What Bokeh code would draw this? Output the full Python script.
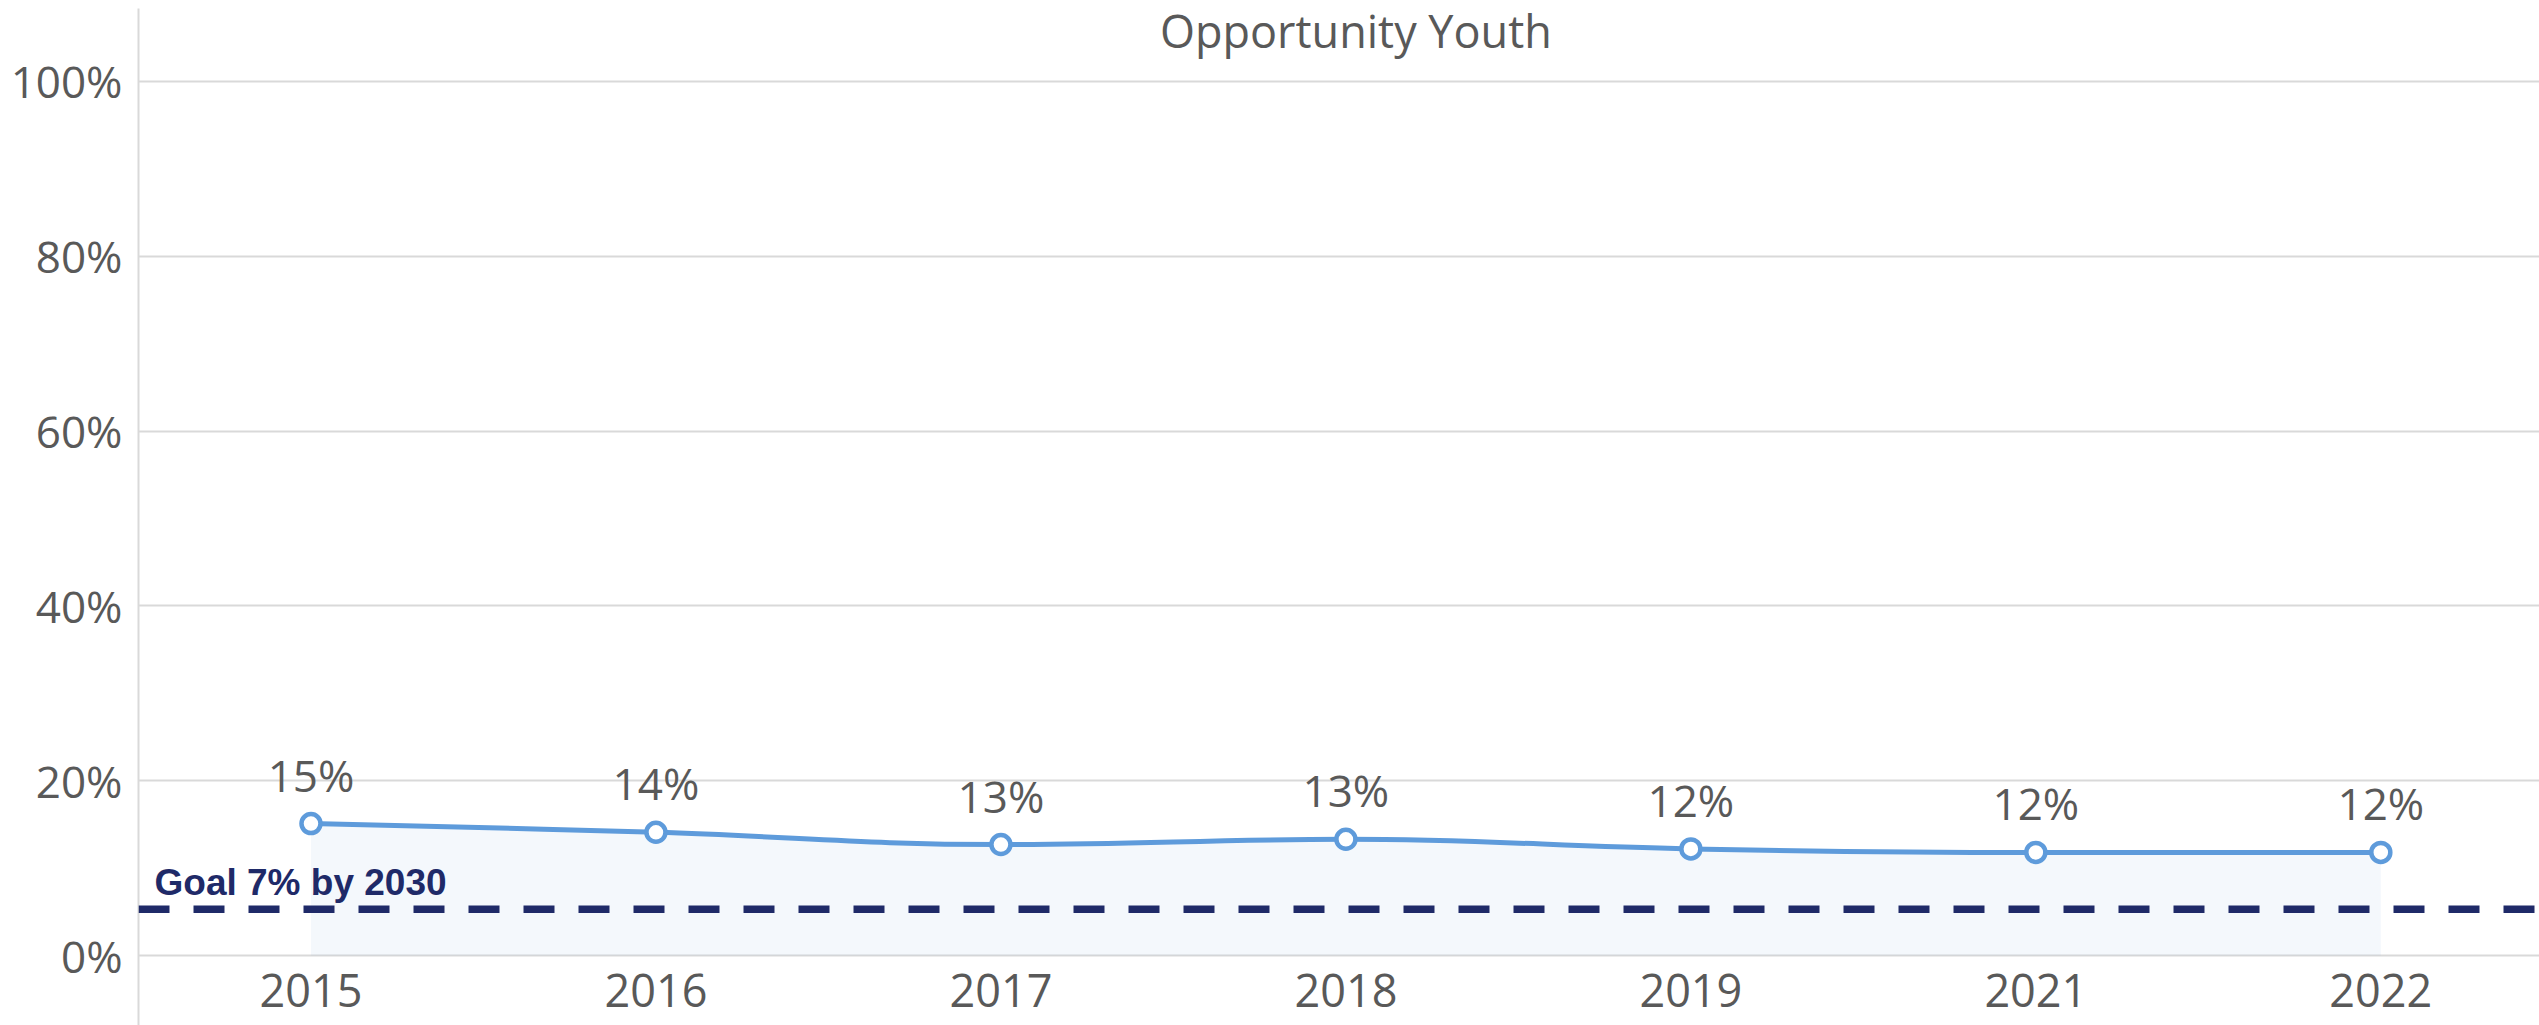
import numpy as np
from bokeh.plotting import figure
from bokeh.models import Range1d, FixedTicker, PrintfTickFormatter, Span, Label, ColumnDataSource
from bokeh.core.properties import value
from bokeh.embed import file_html
from bokeh.resources import INLINE

# ---- data ----
years = ["2015", "2016", "2017", "2018", "2019", "2021", "2022"]
rates = [15.1, 14.1, 12.7, 13.3, 12.2, 11.8, 11.8]
rate_labels = ["15%", "14%", "13%", "13%", "12%", "12%", "12%"]
y_ticks = [0, 20, 40, 60, 80, 100]
goal_level = 5.3
goal_text = "Goal 7% by 2030"
title_text = "Opportunity Youth"

# ---- styles ----
BLUE = "#5e9bdb"
NAVY = "#1f2a68"
GRID = "#d9d9d9"
TEXT = "#595959"
FONT = "Open Sans"

xs = list(range(len(years)))

# Highcharts-like spline control points (smoothing 1.5)
def spline_segments(px, py, smoothing=1.5):
    denom = smoothing + 1.0
    n = len(px)
    rc = [None] * n
    lc = [None] * n
    for i in range(1, n - 1):
        lx, ly = px[i - 1], py[i - 1]
        nx, ny = px[i + 1], py[i + 1]
        x, y = px[i], py[i]
        lcx = (smoothing * x + lx) / denom
        lcy = (smoothing * y + ly) / denom
        rcx = (smoothing * x + nx) / denom
        rcy = (smoothing * y + ny) / denom
        corr = 0.0
        if rcx != lcx:
            corr = ((rcy - lcy) * (rcx - x)) / (rcx - lcx) + y - rcy
        lcy += corr
        rcy += corr
        if lcy > ly and lcy > y:
            lcy = max(ly, y); rcy = 2 * y - lcy
        elif lcy < ly and lcy < y:
            lcy = min(ly, y); rcy = 2 * y - lcy
        if rcy > ny and rcy > y:
            rcy = max(ny, y); lcy = 2 * y - rcy
        elif rcy < ny and rcy < y:
            rcy = min(ny, y); lcy = 2 * y - rcy
        lc[i] = (lcx, lcy)
        rc[i] = (rcx, rcy)
    seg = dict(x0=[], y0=[], x1=[], y1=[], cx0=[], cy0=[], cx1=[], cy1=[])
    for i in range(1, n):
        c0 = rc[i - 1] if rc[i - 1] is not None else (px[i - 1], py[i - 1])
        c1 = lc[i] if lc[i] is not None else (px[i], py[i])
        seg["x0"].append(px[i - 1]); seg["y0"].append(py[i - 1])
        seg["x1"].append(px[i]); seg["y1"].append(py[i])
        seg["cx0"].append(c0[0]); seg["cy0"].append(c0[1])
        seg["cx1"].append(c1[0]); seg["cy1"].append(c1[1])
    return seg

W, H = 2539, 1025
p = figure(width=W, height=H, output_backend="svg", toolbar_location=None,
           x_range=Range1d(-0.5, 6.46), y_range=Range1d(-8.0, 108.34),
           min_border_left=138, min_border_right=0, min_border_top=8, min_border_bottom=0,
           background_fill_color="white", border_fill_color="white")
p.outline_line_color = None

src = ColumnDataSource(dict(x=xs, y=rates, lab=rate_labels, zero=[0] * len(xs)))

# area under line
p.varea(x="x", y1="zero", y2="y", source=src, fill_color=BLUE, fill_alpha=0.07)

# goal line
p.add_layout(Span(location=goal_level, dimension="width", line_color=NAVY,
                  line_width=7.5, line_dash="31 24"))

# spline
seg = spline_segments(xs, rates)
p.bezier(source=ColumnDataSource(seg), x0="x0", y0="y0", x1="x1", y1="y1",
         cx0="cx0", cy0="cy0", cx1="cx1", cy1="cy1", line_color=BLUE, line_width=5)

p.scatter(x="x", y="y", source=src, size=19, fill_color="white",
          line_color=BLUE, line_width=4.5)

# data labels
p.text(x="x", y="y", text="lab", source=src, y_offset=-49,
       text_align="center", text_baseline="alphabetic",
       text_font=value(FONT), text_font_size="44px", text_color=TEXT)

# goal label
p.add_layout(Label(x=-0.5, y=goal_level, x_offset=16, y_offset=27, text=goal_text,
                   text_font="Liberation Sans", text_font_style="bold",
                   text_font_size="37px", text_color=NAVY,
                   text_align="left", text_baseline="alphabetic"))

# title
p.add_layout(Label(x=(len(xs) - 1) / 2, y=y_ticks[-1], x_offset=10, y_offset=51,
                   text=title_text, text_font=FONT, text_font_size="45px",
                   text_color=TEXT, text_align="center", text_baseline="alphabetic"))

# y axis
p.yaxis.ticker = FixedTicker(ticks=y_ticks)
p.yaxis.formatter = PrintfTickFormatter(format="%d%%")
p.yaxis.axis_line_color = GRID
p.yaxis.axis_line_width = 2
p.yaxis.major_tick_line_color = None
p.yaxis.minor_tick_line_color = None
p.yaxis.major_tick_out = 0
p.yaxis.major_tick_in = 0
p.yaxis.major_label_standoff = 16
p.yaxis.major_label_text_font = FONT
p.yaxis.major_label_text_font_size = "44px"
p.yaxis.major_label_text_color = TEXT

# x axis drawn at y=0 inside the frame
p.xaxis.fixed_location = 0
p.xaxis.ticker = FixedTicker(ticks=xs)
p.xaxis.major_label_overrides = {i: yr for i, yr in zip(xs, years)}
p.xaxis.axis_line_color = None
p.xaxis.major_tick_line_color = None
p.xaxis.minor_tick_line_color = None
p.xaxis.major_tick_out = 0
p.xaxis.major_tick_in = 0
p.xaxis.major_label_standoff = 18
p.xaxis.major_label_text_font = FONT
p.xaxis.major_label_text_font_size = "45px"
p.xaxis.major_label_text_color = TEXT

p.ygrid.grid_line_color = GRID
p.ygrid.grid_line_width = 2
p.xgrid.grid_line_color = None

open("out.html", "w").write(file_html(p, INLINE))
